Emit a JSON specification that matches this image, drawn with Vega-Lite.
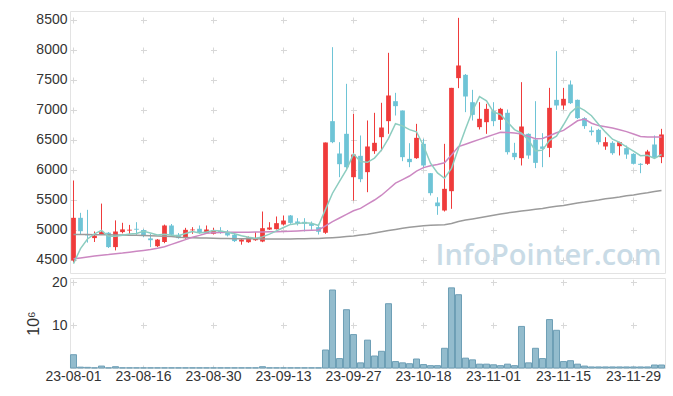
{
  "$schema": "https://vega.github.io/schema/vega-lite/v6.json",
  "padding": {"left": 24, "top": 10, "right": 5, "bottom": 5},
  "spacing": 0,
  "datasets": {
    "p": [
      {"d":"23-08-01","o":4492,"h":5825,"l":4460,"c":5203,"m5":4440,"m20":4520,"m60":4925,"v":3.1},
      {"d":"23-08-02","o":5203,"h":5286,"l":4920,"c":4980,"m5":4690,"m20":4535,"m60":4924,"v":0.2},
      {"d":"23-08-03","o":4930,"h":5336,"l":4790,"c":4910,"m5":4850,"m20":4550,"m60":4923,"v":0.15},
      {"d":"23-08-04","o":4865,"h":4975,"l":4800,"c":4905,"m5":4935,"m20":4565,"m60":4922,"v":0.05},
      {"d":"23-08-07","o":4930,"h":5440,"l":4920,"c":4965,"m5":4993,"m20":4580,"m60":4921,"v":0.45},
      {"d":"23-08-08","o":4955,"h":4965,"l":4700,"c":4715,"m5":4895,"m20":4590,"m60":4920,"v":0.05},
      {"d":"23-08-09","o":4715,"h":5160,"l":4660,"c":4975,"m5":4894,"m20":4605,"m60":4918,"v":0.3},
      {"d":"23-08-10","o":4965,"h":5120,"l":4945,"c":5010,"m5":4914,"m20":4615,"m60":4916,"v":0.05},
      {"d":"23-08-11","o":4990,"h":5085,"l":4935,"c":5005,"m5":4934,"m20":4630,"m60":4914,"v":0.05},
      {"d":"23-08-14","o":5020,"h":5130,"l":4920,"c":5005,"m5":4942,"m20":4645,"m60":4912,"v":0.05},
      {"d":"23-08-16","o":5000,"h":5015,"l":4880,"c":4900,"m5":4979,"m20":4660,"m60":4910,"v":0.05},
      {"d":"23-08-17","o":4860,"h":4935,"l":4715,"c":4830,"m5":4950,"m20":4675,"m60":4906,"v":0.05},
      {"d":"23-08-18","o":4730,"h":4850,"l":4715,"c":4840,"m5":4916,"m20":4695,"m60":4900,"v":0.05},
      {"d":"23-08-21","o":4800,"h":5090,"l":4780,"c":5075,"m5":4930,"m20":4720,"m60":4895,"v":0.05},
      {"d":"23-08-22","o":5075,"h":5100,"l":4905,"c":4920,"m5":4913,"m20":4760,"m60":4890,"v":0.05},
      {"d":"23-08-23","o":4920,"h":4950,"l":4855,"c":4865,"m5":4906,"m20":4800,"m60":4880,"v":0.05},
      {"d":"23-08-24","o":4865,"h":5036,"l":4855,"c":5003,"m5":4941,"m20":4840,"m60":4875,"v":0.05},
      {"d":"23-08-25","o":4995,"h":5047,"l":4936,"c":5008,"m5":4974,"m20":4880,"m60":4870,"v":0.05},
      {"d":"23-08-28","o":5020,"h":5075,"l":4936,"c":4950,"m5":4949,"m20":4910,"m60":4867,"v":0.05},
      {"d":"23-08-29","o":4950,"h":5075,"l":4936,"c":5008,"m5":4967,"m20":4945,"m60":4865,"v":0.05},
      {"d":"23-08-30","o":4936,"h":5036,"l":4925,"c":4992,"m5":4992,"m20":4955,"m60":4862,"v":0.05},
      {"d":"23-08-31","o":4986,"h":5047,"l":4936,"c":4960,"m5":4984,"m20":4960,"m60":4860,"v":0.05},
      {"d":"23-09-01","o":4970,"h":5000,"l":4892,"c":4910,"m5":4964,"m20":4962,"m60":4858,"v":0.05},
      {"d":"23-09-04","o":4920,"h":4936,"l":4800,"c":4815,"m5":4937,"m20":4962,"m60":4856,"v":0.05},
      {"d":"23-09-05","o":4808,"h":4853,"l":4755,"c":4842,"m5":4904,"m20":4962,"m60":4855,"v":0.05},
      {"d":"23-09-06","o":4797,"h":4892,"l":4786,"c":4875,"m5":4880,"m20":4963,"m60":4854,"v":0.05},
      {"d":"23-09-07","o":4830,"h":4964,"l":4820,"c":4864,"m5":4861,"m20":4965,"m60":4853,"v":0.05},
      {"d":"23-09-08","o":4808,"h":5308,"l":4797,"c":5030,"m5":4885,"m20":4968,"m60":4852,"v":0.3},
      {"d":"23-09-11","o":5008,"h":5130,"l":5000,"c":5042,"m5":4931,"m20":4970,"m60":4851,"v":0.05},
      {"d":"23-09-12","o":5014,"h":5225,"l":5008,"c":5114,"m5":4985,"m20":4972,"m60":4851,"v":0.05},
      {"d":"23-09-13","o":5092,"h":5242,"l":5075,"c":5158,"m5":5042,"m20":4975,"m60":4851,"v":0.05},
      {"d":"23-09-14","o":5242,"h":5250,"l":5103,"c":5119,"m5":5093,"m20":4980,"m60":4852,"v":0.05},
      {"d":"23-09-15","o":5142,"h":5197,"l":5075,"c":5114,"m5":5109,"m20":4985,"m60":4853,"v":0.05},
      {"d":"23-09-18","o":5136,"h":5197,"l":4975,"c":5103,"m5":5122,"m20":4990,"m60":4855,"v":0.05},
      {"d":"23-09-19","o":5103,"h":5142,"l":5003,"c":5069,"m5":5113,"m20":4995,"m60":4857,"v":0.05},
      {"d":"23-09-20","o":5047,"h":5103,"l":4925,"c":4970,"m5":5075,"m20":5000,"m60":4860,"v":0.05},
      {"d":"23-09-21","o":4953,"h":6458,"l":4936,"c":6458,"m5":5343,"m20":5070,"m60":4865,"v":4.2},
      {"d":"23-09-22","o":6814,"h":8047,"l":6447,"c":6464,"m5":5613,"m20":5140,"m60":4872,"v":18.2},
      {"d":"23-09-25","o":6275,"h":6464,"l":5880,"c":6097,"m5":5812,"m20":5200,"m60":4880,"v":2.2},
      {"d":"23-09-26","o":6603,"h":7436,"l":6019,"c":6047,"m5":6007,"m20":5260,"m60":4890,"v":13.6},
      {"d":"23-09-27","o":5880,"h":6936,"l":5492,"c":6258,"m5":6265,"m20":5320,"m60":4900,"v":7.8},
      {"d":"23-10-04","o":6236,"h":6575,"l":5797,"c":5847,"m5":6143,"m20":5360,"m60":4915,"v":1.2},
      {"d":"23-10-05","o":5964,"h":6825,"l":5630,"c":6392,"m5":6128,"m20":5430,"m60":4930,"v":6.5},
      {"d":"23-10-06","o":6314,"h":6953,"l":6269,"c":6453,"m5":6199,"m20":5500,"m60":4950,"v":2.8},
      {"d":"23-10-10","o":6547,"h":7120,"l":6314,"c":6708,"m5":6332,"m20":5580,"m60":4970,"v":3.9},
      {"d":"23-10-11","o":6814,"h":7953,"l":6603,"c":7242,"m5":6528,"m20":5680,"m60":4990,"v":15.0},
      {"d":"23-10-12","o":7147,"h":7286,"l":6908,"c":7064,"m5":6772,"m20":5780,"m60":5010,"v":1.5},
      {"d":"23-10-13","o":6992,"h":6992,"l":6147,"c":6214,"m5":6736,"m20":5840,"m60":5030,"v":1.2},
      {"d":"23-10-16","o":6186,"h":6447,"l":6047,"c":6131,"m5":6672,"m20":5900,"m60":5045,"v":1.0},
      {"d":"23-10-17","o":6197,"h":6769,"l":6186,"c":6536,"m5":6637,"m20":5980,"m60":5060,"v":2.1},
      {"d":"23-10-18","o":6436,"h":6519,"l":6047,"c":6075,"m5":6404,"m20":6040,"m60":5070,"v":0.8},
      {"d":"23-10-19","o":5947,"h":5950,"l":5575,"c":5614,"m5":6114,"m20":6070,"m60":5078,"v":0.55},
      {"d":"23-10-20","o":5458,"h":5547,"l":5253,"c":5397,"m5":5951,"m20":6090,"m60":5082,"v":0.55},
      {"d":"23-10-23","o":5325,"h":6436,"l":5308,"c":5686,"m5":5862,"m20":6120,"m60":5088,"v":4.6},
      {"d":"23-10-24","o":5647,"h":7369,"l":5353,"c":7369,"m5":6028,"m20":6250,"m60":5110,"v":18.7},
      {"d":"23-10-25","o":7531,"h":8536,"l":7364,"c":7742,"m5":6362,"m20":6390,"m60":5140,"v":17.1},
      {"d":"23-10-26","o":7586,"h":7600,"l":6964,"c":7225,"m5":6684,"m20":6430,"m60":5165,"v":2.3},
      {"d":"23-10-27","o":7130,"h":7336,"l":6825,"c":6919,"m5":6988,"m20":6470,"m60":5185,"v":1.9},
      {"d":"23-10-30","o":6714,"h":7130,"l":6675,"c":6853,"m5":7222,"m20":6510,"m60":5205,"v":0.9},
      {"d":"23-10-31","o":6797,"h":7103,"l":6603,"c":7019,"m5":7152,"m20":6550,"m60":5225,"v":0.9},
      {"d":"23-11-01","o":6981,"h":7130,"l":6730,"c":6814,"m5":6966,"m20":6590,"m60":5245,"v":0.75},
      {"d":"23-11-02","o":6836,"h":7036,"l":6669,"c":7019,"m5":6925,"m20":6630,"m60":5265,"v":0.55},
      {"d":"23-11-03","o":6953,"h":7008,"l":6258,"c":6297,"m5":6800,"m20":6625,"m60":5285,"v":0.9},
      {"d":"23-11-06","o":6286,"h":6453,"l":6169,"c":6214,"m5":6673,"m20":6615,"m60":5300,"v":0.55},
      {"d":"23-11-07","o":6197,"h":7464,"l":6075,"c":6725,"m5":6614,"m20":6600,"m60":5315,"v":9.7},
      {"d":"23-11-08","o":6603,"h":6610,"l":6186,"c":6242,"m5":6499,"m20":6560,"m60":5330,"v":1.2},
      {"d":"23-11-09","o":6508,"h":7147,"l":6031,"c":6119,"m5":6319,"m20":6520,"m60":5345,"v":4.6},
      {"d":"23-11-10","o":6392,"h":6614,"l":6047,"c":6353,"m5":6331,"m20":6525,"m60":5360,"v":2.2},
      {"d":"23-11-13","o":6369,"h":7369,"l":6214,"c":7036,"m5":6495,"m20":6570,"m60":5380,"v":11.3},
      {"d":"23-11-14","o":7169,"h":7981,"l":7003,"c":7075,"m5":6565,"m20":6620,"m60":5395,"v":8.8},
      {"d":"23-11-15","o":7075,"h":7369,"l":7008,"c":7186,"m5":6754,"m20":6660,"m60":5410,"v":1.5},
      {"d":"23-11-16","o":7425,"h":7492,"l":7100,"c":7114,"m5":6953,"m20":6740,"m60":5430,"v":1.7},
      {"d":"23-11-17","o":7169,"h":7175,"l":6850,"c":6864,"m5":7055,"m20":6820,"m60":5450,"v":0.9},
      {"d":"23-11-20","o":6864,"h":6880,"l":6686,"c":6731,"m5":6994,"m20":6850,"m60":5465,"v":0.45},
      {"d":"23-11-21","o":6658,"h":6725,"l":6575,"c":6631,"m5":6905,"m20":6780,"m60":5485,"v":0.25},
      {"d":"23-11-22","o":6669,"h":6686,"l":6425,"c":6464,"m5":6761,"m20":6740,"m60":5500,"v":0.25},
      {"d":"23-11-23","o":6392,"h":6547,"l":6336,"c":6464,"m5":6631,"m20":6720,"m60":5520,"v":0.25},
      {"d":"23-11-24","o":6453,"h":6480,"l":6253,"c":6280,"m5":6514,"m20":6700,"m60":5535,"v":0.25},
      {"d":"23-11-27","o":6397,"h":6470,"l":6242,"c":6464,"m5":6461,"m20":6670,"m60":5550,"v":0.25},
      {"d":"23-11-28","o":6364,"h":6408,"l":6186,"c":6258,"m5":6386,"m20":6640,"m60":5570,"v":0.25},
      {"d":"23-11-29","o":6269,"h":6280,"l":6092,"c":6103,"m5":6314,"m20":6600,"m60":5585,"v":0.25},
      {"d":"23-11-30","o":6103,"h":6114,"l":5947,"c":6086,"m5":6238,"m20":6560,"m60":5605,"v":0.25},
      {"d":"23-12-01","o":6103,"h":6336,"l":6086,"c":6308,"m5":6244,"m20":6550,"m60":5620,"v":0.25},
      {"d":"23-12-04","o":6425,"h":6575,"l":6186,"c":6203,"m5":6192,"m20":6550,"m60":5640,"v":0.7},
      {"d":"23-12-05","o":6214,"h":6686,"l":6114,"c":6592,"m5":6258,"m20":6550,"m60":5660,"v":0.7}
    ]
  },
  "vconcat": [
    {
      "width": 595,
      "height": 262,
      "data": {"name": "p"},
      "resolve": {"axis": {"y": "independent"}},
      "encoding": {
        "x": {
          "field": "d", "type": "ordinal", "title": null,
          "scale": {"type": "band", "paddingInner": 0, "paddingOuter": 0},
          "axis": {
            "values": ["23-08-01","23-08-16","23-08-30","23-09-13","23-09-27","23-10-18","23-11-01","23-11-15","23-11-29"],
            "labels": false, "ticks": false, "domain": false,
            "grid": true, "bandPosition": 0.5, "gridColor": "#d8d8d8",
            "gridDash": [6, 24], "gridDashOffset": 24
          }
        }
      },
      "layer": [
        {
          "mark": {"type": "rule", "strokeWidth": 1},
          "encoding": {
            "y": {"field": "l", "type": "quantitative", "title": null,
              "scale": {"domain": [4283.3, 8650], "zero": false, "nice": false},
              "axis": {"values": [4500,5000,5500,6000,6500,7000,7500,8000,8500], "format": "d", "labelOverlap": false, "ticks": false, "domain": false, "labelPadding": 3,
                "grid": true, "gridColor": "#d8d8d8", "gridDash": [6, 64], "gridDashOffset": 69.5}},
            "y2": {"field": "h"},
            "color": {"condition": {"test": "datum.c >= datum.o", "value": "#ef3b3b"}, "value": "#6ec4d6"}
          }
        },
        {
          "mark": {"type": "bar", "width": {"band": 0.68}},
          "encoding": {
            "y": {"field": "o", "type": "quantitative", "axis": null},
            "y2": {"field": "c"},
            "color": {"condition": {"test": "datum.c >= datum.o", "value": "#ef3b3b"}, "value": "#6ec4d6"}
          }
        },
        {
          "mark": {"type": "line", "color": "#9b9b9b", "strokeWidth": 1.5},
          "encoding": {"y": {"field": "m60", "type": "quantitative", "axis": null}}
        },
        {
          "mark": {"type": "line", "color": "#cc88c2", "strokeWidth": 1.5},
          "encoding": {"y": {"field": "m20", "type": "quantitative", "axis": null}}
        },
        {
          "mark": {"type": "line", "color": "#8dcdc0", "strokeWidth": 1.5},
          "encoding": {"y": {"field": "m5", "type": "quantitative", "axis": null}}
        },
        {
          "data": {"values": [{"t": "InfoPointer.com"}]},
          "mark": {"type": "text", "font": "Open Sans", "fontSize": 29, "fontWeight": 600, "color": "#c9dbe6", "align": "center", "baseline": "alphabetic", "dx": 6},
          "encoding": {
            "x": {"datum": "23-11-10", "type": "ordinal"},
            "y": {"datum": 4410, "type": "quantitative", "axis": null},
            "text": {"field": "t"}
          }
        }
      ]
    },
    {
      "width": 595,
      "height": 90,
      "data": {"name": "p"},
      "mark": {"type": "bar", "width": {"band": 0.86}, "fill": "#93bccd", "stroke": "#6e9fb6", "strokeWidth": 1},
      "encoding": {
        "x": {
          "field": "d", "type": "ordinal", "title": null,
          "scale": {"type": "band", "paddingInner": 0, "paddingOuter": 0},
          "axis": {
            "values": ["23-08-01","23-08-16","23-08-30","23-09-13","23-09-27","23-10-18","23-11-01","23-11-15","23-11-29"],
            "labelAngle": 0, "ticks": false, "domain": false, "labelPadding": 1,
            "grid": true, "bandPosition": 0.5, "gridColor": "#d8d8d8",
            "gridDash": [6, 36.857], "gridDashOffset": 41.571
          }
        },
        "y": {
          "field": "v", "type": "quantitative", "title": "10⁶",
          "scale": {"domain": [0, 21], "nice": false},
          "axis": {"values": [10, 20], "ticks": false, "domain": false, "labelPadding": 3, "titlePadding": 10, "titleFontSize": 16,
            "grid": true, "gridColor": "#d8d8d8", "gridDash": [6, 64], "gridDashOffset": 69.5}
        }
      }
    }
  ],
  "config": {
    "view": {"stroke": "#e3e3e3"},
    "axisY": {"labelOverlap": false},
    "axis": {"labelFont": "Liberation Sans", "labelFontSize": 14, "labelColor": "#333333", "titleFont": "Liberation Sans", "titleFontSize": 14, "titleFontWeight": "normal", "titleColor": "#333333"}
  }
}
